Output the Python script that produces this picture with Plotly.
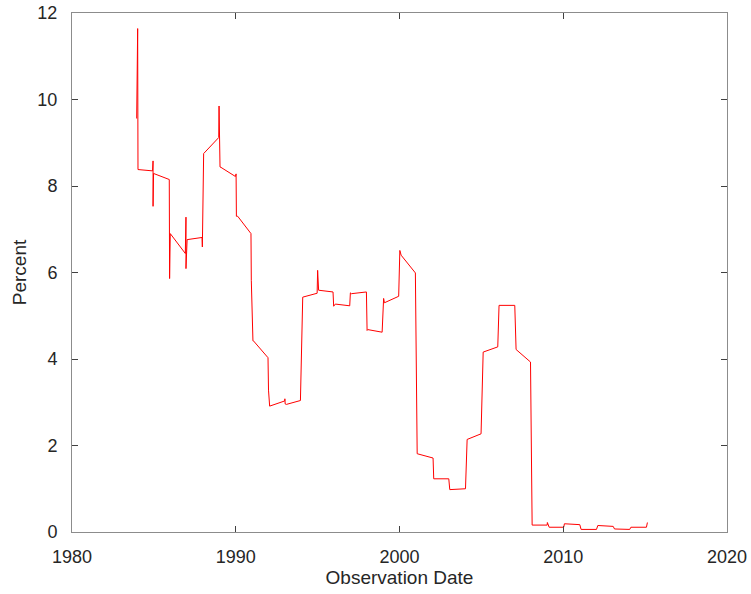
import plotly.graph_objects as go

# Observation date (decimal years) and percent values
obs_year = [
    1983.95, 1984.01, 1984.03, 1984.92, 1984.95, 1984.95, 1984.98, 1985.94,
    1985.96, 1986.00, 1986.92,
    1986.96, 1986.96, 1987.03, 1987.94,
    1987.96, 1988.00, 1988.04, 1988.96,
    1988.98, 1989.04, 1989.10, 1989.98,
    1990.02, 1990.04, 1990.12, 1990.93,
    1990.95, 1991.05, 1991.08, 1991.97,
    1992.00, 1992.07, 1992.99,
    1993.00, 1993.02, 1993.09, 1993.95,
    1994.09, 1994.97,
    1995.00, 1995.03, 1995.06, 1995.94,
    1995.98, 1996.08, 1996.96,
    1997.00, 1997.06, 1997.98,
    1998.02, 1998.06, 1998.94,
    1999.03, 1999.08, 1999.95,
    2000.02, 2000.06, 2000.10, 2000.97,
    2001.08, 2002.05,
    2002.09, 2003.01,
    2003.07, 2004.03,
    2004.13, 2004.98,
    2005.11, 2006.00,
    2006.08, 2007.04,
    2007.12, 2008.00,
    2008.05, 2008.10, 2009.02,
    2009.03, 2009.14, 2010.03,
    2010.07, 2011.01,
    2011.09, 2012.03,
    2012.11, 2013.05,
    2013.13, 2014.06,
    2014.13, 2015.08, 2015.14,
]
percent = [
    9.56, 11.64, 8.38, 8.35, 8.58, 7.53, 8.29, 8.15,
    5.86, 6.90, 6.44,
    7.28, 6.09, 6.76, 6.81,
    6.59, 8.75, 8.75, 9.12,
    9.85, 8.44, 8.43, 8.22,
    8.28, 7.30, 7.30, 6.90,
    5.82, 4.42, 4.42, 4.03,
    3.28, 2.91, 3.03,
    3.08, 2.96, 2.95, 3.04,
    5.43, 5.52,
    6.05, 5.65, 5.59, 5.55,
    5.22, 5.27, 5.23,
    5.53, 5.51, 5.55,
    4.66, 4.68, 4.62,
    5.40, 5.30, 5.45,
    6.51, 6.40, 6.40, 5.99,
    1.81, 1.71,
    1.23, 1.23,
    0.98, 1.00,
    2.14, 2.27,
    4.16, 4.28,
    5.24, 5.24,
    4.22, 3.93,
    2.00, 0.16, 0.16,
    0.22, 0.11, 0.11,
    0.19, 0.17,
    0.06, 0.06,
    0.15, 0.13,
    0.07, 0.06,
    0.11, 0.11, 0.22,
]

x_ticks = [1980, 1990, 2000, 2010, 2020]
y_ticks = [0, 2, 4, 6, 8, 10, 12]

fig = go.Figure()
fig.add_trace(go.Scatter(
    x=obs_year, y=percent, mode="lines",
    line=dict(color="#ff0000", width=1),
    showlegend=False,
))

axis_common = dict(
    showline=True, linecolor="#8c8c8c", linewidth=1, mirror="ticks",
    ticks="inside", ticklen=6, tickcolor="#404040", tickwidth=1,
    showgrid=False, zeroline=False, automargin=False, ticklabeloverflow="allow",
    tickfont=dict(family="Liberation Sans, Arial, sans-serif", size=18, color="#262626"),
    title_font=dict(family="Liberation Sans, Arial, sans-serif", size=19, color="#262626"),
)

fig.update_xaxes(
    range=[1980, 2020], tickvals=x_ticks, ticktext=[str(v) for v in x_ticks],
    title_text="Observation Date", ticklabelstandoff=8, title_standoff=5,
    **axis_common,
)
fig.update_yaxes(
    range=[0, 12], tickvals=y_ticks, ticktext=[str(v) for v in y_ticks],
    title_text="Percent", ticklabelstandoff=10, title_standoff=5,
    **axis_common,
)

fig.update_layout(
    width=751, height=594,
    margin=dict(l=72, r=24, t=13, b=62),
    paper_bgcolor="white", plot_bgcolor="white",
)

# remove the default page body margin so the figure sits at the window's corner
fig.write_html(
    "out.html",
    config={"displayModeBar": False},
    post_script="document.body.style.margin='0';",
)
